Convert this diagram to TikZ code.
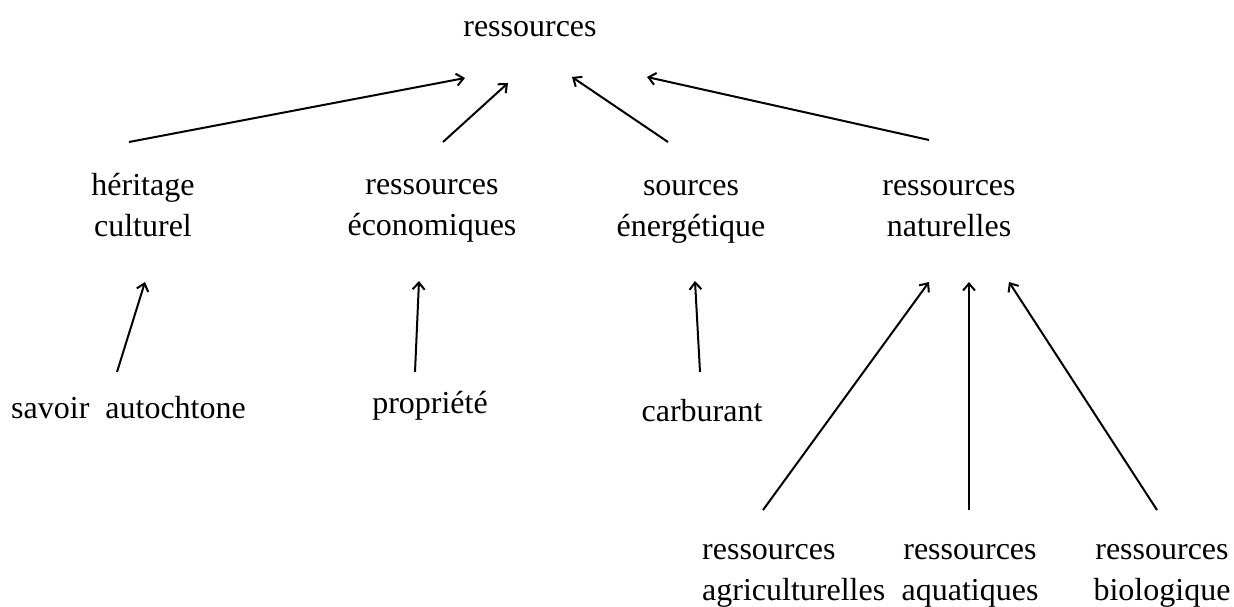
\documentclass[tikz,border=0pt]{standalone}
\usepackage{fontspec}
\setmainfont{Liberation Serif}
\usetikzlibrary{arrows.meta}
\tikzset{
  lbl/.style={inner sep=0pt, align=center, font=\fontsize{32}{41}\selectfont},
  arr/.style={line width=2pt, -{Straight Barb[length=7pt,width=12pt,line width=2pt]}}
}
\begin{document}
\begin{tikzpicture}[x=1pt,y=-1pt]
\useasboundingbox (0,0) rectangle (1234,606);
\node[lbl] (top) at (530,28) {\strut ressources};
\node[lbl] (her) at (143,208) {\strut héritage\\\strut culturel};
\node[lbl] (eco) at (432,207) {\strut ressources\\\strut économiques};
\node[lbl] (ener) at (691,208) {\strut sources\\\strut énergétique};
\node[lbl] (nat) at (949,208) {\strut ressources\\\strut naturelles};
\node[lbl] (sav) at (128.5,410) {\strut savoir\ \ autochtone};
\node[lbl] (prop) at (430,405) {\strut propriété};
\node[lbl] (carb) at (702,413) {\strut carburant};
\node[lbl, align=left, anchor=west] (agri) at (702,572) {\strut ressources\\\strut agriculturelles};
\node[lbl] (aqua) at (970,572) {\strut ressources\\\strut aquatiques};
\node[lbl] (bio) at (1162,572) {\strut ressources\\\strut biologique};
\draw[arr] ([shift={(-14,-66)}]her.center) -- ([shift={(-65,50)}]top.center);
\draw[arr] ([shift={(11,-65)}]eco.center) -- ([shift={(-22,55)}]top.center);
\draw[arr] ([shift={(-23,-66)}]ener.center) -- ([shift={(42,49)}]top.center);
\draw[arr] ([shift={(-20,-68)}]nat.center) -- ([shift={(117,49)}]top.center);
\draw[arr] ([shift={(-11.5,-38)}]sav.center) -- ([shift={(2,74)}]her.center);
\draw[arr] ([shift={(-15,-33)}]prop.center) -- ([shift={(-13,74)}]eco.center);
\draw[arr] ([shift={(-2,-41)}]carb.center) -- ([shift={(4,73)}]ener.center);
\draw[arr] ([shift={(61,-62)}]agri.west) -- ([shift={(-20,74)}]nat.center);
\draw[arr] ([shift={(-1,-62)}]aqua.center) -- ([shift={(20,74)}]nat.center);
\draw[arr] ([shift={(-5,-62)}]bio.center) -- ([shift={(60,74)}]nat.center);
\end{tikzpicture}
\end{document}
